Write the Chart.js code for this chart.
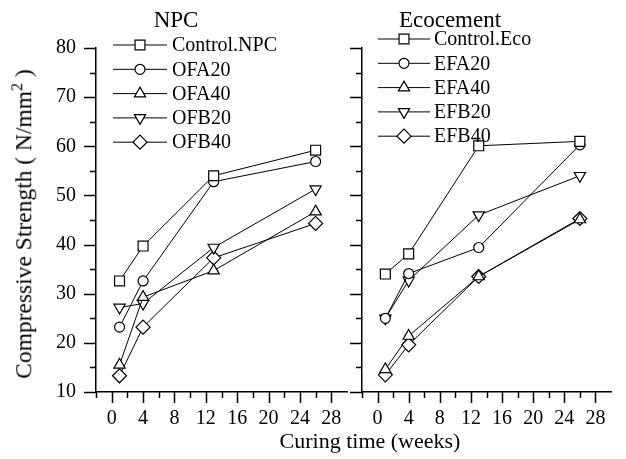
<!DOCTYPE html>
<html>
<head>
<meta charset="utf-8">
<script src="https://cdn.jsdelivr.net/npm/chart.js@4.4.1/dist/chart.umd.min.js"></script>
<style>
  html, body { margin: 0; padding: 0; background: #fff; }
  #wrap { position: relative; width: 626px; height: 459px; overflow: hidden; font-family: 'Liberation Serif', 'Times New Roman', serif; color: #000; }
  canvas { position: absolute; top: 0; }
  #npc-canvas { left: 0; }
  #eco-canvas { left: 340px; }
  .label { position: absolute; white-space: nowrap; line-height: 1; transform: translate(-50%, -50%); }
  #title-npc { left: 176px; top: 19px; font-size: 23px; }
  #title-eco { left: 450px; top: 19px; font-size: 23px; }
  #y-title { left: 24px; top: 224px; font-size: 23.5px; transform: translate(-50%, -50%) rotate(-90deg); }
  #y-title sup { font-size: 16px; vertical-align: 9px; line-height: 0; }
  #x-title { left: 370px; top: 441px; font-size: 22px; }
</style>
</head>
<body>
<div id="wrap">
  <canvas id="npc-canvas" width="362" height="459"></canvas>
  <canvas id="eco-canvas" width="286" height="459"></canvas>
  <div class="label" id="title-npc">NPC</div>
  <div class="label" id="title-eco">Ecocement</div>
  <div class="label" id="y-title">Compressive Strength ( N/mm<sup>2</sup> )</div>
  <div class="label" id="x-title">Curing time (weeks)</div>
</div>
<script>
// curing time in weeks
const weeks = [1, 4, 13, 26];

// NPC series (N/mm2)
const npcLabels = ['Control.NPC', 'OFA20', 'OFA40', 'OFB20', 'OFB40'];
const controlNpc = [32.6, 39.7, 54.0, 59.2];
const ofa20 = [23.2, 32.6, 52.8, 56.9];
const ofa40 = [15.5, 29.3, 34.7, 46.7];
const ofb20 = [27.2, 28.0, 39.4, 51.3];
const ofb40 = [13.3, 23.2, 37.3, 44.3];

// Ecocement series (N/mm2)
const ecoLabels = ['Control.Eco', 'EFA20', 'EFA40', 'EFB20', 'EFB40'];
const controlEco = [34.0, 38.1, 60.1, 61.0];
const efa20 = [25.0, 34.1, 39.4, 60.3];
const efa40 = [14.6, 21.4, 33.5, 45.1];
const efb20 = [25.0, 32.7, 46.0, 54.0];
const efb40 = [13.5, 19.6, 33.5, 45.3];

const xTickLabels = ['0', '4', '8', '12', '16', '20', '24', '28'];
const yTickLabels = ['10', '20', '30', '40', '50', '60', '70', '80'];

const FONT = "'Liberation Serif', 'Times New Roman', serif";

// marker look per series position: square, circle, up triangle, down triangle, diamond
const markers = [
    { pointStyle: 'rect', radius: 7, rotation: 0 },
    { pointStyle: 'circle', radius: 5, rotation: 0 },
    { pointStyle: 'triangle', radius: 6.5, rotation: 0 },
    { pointStyle: 'triangle', radius: 6.5, rotation: 180 },
    { pointStyle: 'rectRot', radius: 7, rotation: 0 },
];

function makeDatasets(labels, series) {
    return series.map((values, i) => ({
        label: labels[i],
        data: weeks.map((w, j) => ({ x: w, y: values[j] })),
        borderColor: '#000',
        borderWidth: 1,
        tension: 0,
        pointStyle: markers[i].pointStyle,
        pointRadius: markers[i].radius,
        pointRotation: markers[i].rotation,
        pointBackgroundColor: '#fff',
        pointBorderColor: '#000',
        pointBorderWidth: 1.2,
        pointHoverRadius: markers[i].radius,
    }));
}

// outward tick marks: long at labelled values, short in between
const tickMarks = {
    id: 'tickMarks',
    afterDraw(chart) {
        const { ctx, chartArea, scales } = chart;
        ctx.save();
        ctx.strokeStyle = '#000';
        ctx.lineWidth = 1.5;
        ctx.beginPath();
        for (let v = -2; v < 30; v += 2) {
            const px = Math.round(scales.x.getPixelForValue(v)) + 0.5;
            const len = v % 4 === 0 ? 11 : 6;
            ctx.moveTo(px, chartArea.bottom);
            ctx.lineTo(px, chartArea.bottom + len);
        }
        for (let v = 10; v <= 80; v += 5) {
            const py = Math.round(scales.y.getPixelForValue(v)) + 0.5;
            const len = v % 10 === 0 ? 12 : 6;
            ctx.moveTo(chartArea.left, py);
            ctx.lineTo(chartArea.left - len, py);
        }
        ctx.stroke();
        ctx.restore();
    },
};

// legend drawn as line + marker + text, like the original plot
const lineLegend = {
    id: 'lineLegend',
    afterDraw(chart, args, opts) {
        const { ctx } = chart;
        ctx.save();
        chart.data.datasets.forEach((ds, i) => {
            const y = opts.y0 + i * opts.dy;
            ctx.strokeStyle = '#000';
            ctx.lineWidth = 1;
            ctx.beginPath();
            ctx.moveTo(opts.x1, y);
            ctx.lineTo(opts.x2, y);
            ctx.stroke();
            ctx.fillStyle = '#fff';
            ctx.lineWidth = 1.2;
            Chart.helpers.drawPoint(ctx, {
                pointStyle: ds.pointStyle,
                radius: ds.pointRadius,
                rotation: ds.pointRotation,
                borderWidth: 1.2,
            }, (opts.x1 + opts.x2) / 2, y);
            ctx.fillStyle = '#000';
            ctx.font = '20px ' + FONT;
            ctx.textBaseline = 'middle';
            ctx.textAlign = 'left';
            ctx.fillText(ds.label, opts.textX, y + 1);
        });
        ctx.restore();
    },
};

function makeOptions(showYLabels, yWidth, legendOpts) {
    return {
        responsive: false,
        animation: false,
        events: [],
        layout: { padding: { top: 48, right: 0, bottom: 0, left: 0 } },
        plugins: {
            legend: { display: false },
            tooltip: { enabled: false },
            lineLegend: legendOpts,
        },
        scales: {
            x: {
                type: 'linear',
                min: -2,
                max: 30,
                grid: { display: true, drawOnChartArea: false, drawTicks: false },
                border: { display: true, color: '#000', width: 1.5 },
                ticks: {
                    stepSize: 2,
                    autoSkip: false,
                    maxRotation: 0,
                    padding: 15,
                    color: '#000',
                    font: { family: FONT, size: 20 },
                    callback: (v) => (xTickLabels.includes(String(v)) ? String(v) : ''),
                },
                afterFit: (s) => { s.height = 67; },
            },
            y: {
                min: 10,
                max: 80,
                grid: { display: true, drawOnChartArea: false, drawTicks: false },
                border: { display: true, color: '#000', width: 1.5 },
                ticks: {
                    display: showYLabels,
                    stepSize: 5,
                    autoSkip: false,
                    padding: 20,
                    color: '#000',
                    font: { family: FONT, size: 20 },
                    callback: (v) => (yTickLabels.includes(String(v)) ? String(v) : ''),
                },
                afterFit: (s) => { s.width = yWidth; },
            },
        },
    };
}

new Chart(document.getElementById('npc-canvas'), {
    type: 'line',
    data: { datasets: makeDatasets(npcLabels, [controlNpc, ofa20, ofa40, ofb20, ofb40]) },
    options: makeOptions(true, 96, { x1: 113, x2: 167, textX: 172, y0: 45, dy: 24.3 }),
    plugins: [tickMarks, lineLegend],
});

new Chart(document.getElementById('eco-canvas'), {
    type: 'line',
    data: { datasets: makeDatasets(ecoLabels, [controlEco, efa20, efa40, efb20, efb40]) },
    options: makeOptions(false, 22, { x1: 38, x2: 90, textX: 94, y0: 39, dy: 24.3 }),
    plugins: [tickMarks, lineLegend],
});
</script>
</body>
</html>
